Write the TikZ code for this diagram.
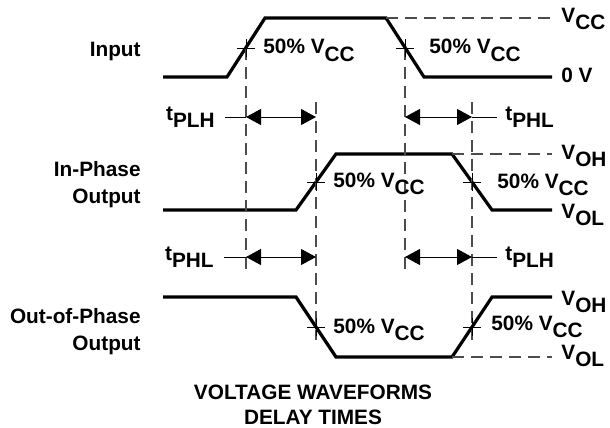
\documentclass[tikz,border=0pt]{standalone}
\usepackage{fontspec}
\setmainfont{Liberation Sans}
\usetikzlibrary{arrows.meta}
\newcommand{\lo}[1]{\raisebox{-0.35em}{#1}}

\begin{document}
\begin{tikzpicture}[x=0.5pt,y=-0.5pt,
    font=\fontsize{10.4}{13.3}\selectfont\bfseries,
    every node/.style={inner sep=0pt},
    wave/.style={line width=1.6pt},
    guide/.style={line width=0.6pt,black!70,dash pattern=on 6pt off 3.5pt},
    tick/.style={line width=0.5pt},
    dim/.style={line width=0.5pt,{Triangle[length=7.5pt,width=8pt]}-{Triangle[length=7.5pt,width=8pt]}}]
    \useasboundingbox (0,0) rectangle (610,428);
    % waveforms
    \draw[wave] (163,77) -- (227,77) -- (265,18) -- (386,18) -- (424,77) -- (552,77);
    \draw[wave] (163,210) -- (296,210) -- (336,154) -- (452,154) -- (492,210) -- (552,210);
    \draw[wave] (163,297) -- (296,297) -- (336,357) -- (452,357) -- (492,297) -- (552,297);
    \draw[guide] (386,18) -- (552,18);
    \draw[guide] (452,154) -- (552,154);
    \draw[guide] (452,357) -- (552,357);
    % 50% points
    \coordinate (ia) at (246,48);
    \coordinate (ib) at (405,48);
    \coordinate (pa) at (316,182);
    \coordinate (pb) at (472,182);
    \coordinate (oa) at (316,327);
    \coordinate (ob) at (472,327);
    \coordinate (t2) at (0,102);
    \coordinate (b1) at (0,269);
    \coordinate (b2) at (0,340);
    \coordinate (r1) at (0,117);
    \coordinate (r2) at (0,257);
    \draw[guide] (ia) -- (ia |- b1);
    \draw[guide] (ib) -- (ib |- b1);
    \draw[guide] (pa |- t2) -- (pa |- b2);
    \draw[guide] (pb |- t2) -- (pb |- b2);
    \foreach \c in {ia,ib,pa,pb,oa,ob}
        \draw[tick] (\c) ++(-9,0) -- ++(18,0) (\c) ++(0,-9) -- ++(0,18);
    % labels
    \node[anchor=north east] (in) at (141,42) {Input};
    \node[anchor=north east,align=right] (inph) at (141,161) {In-Phase\\Output};
    \node[anchor=north east,align=right] (outph) at (141,308) {Out-of-Phase\\Output};
    \node[anchor=base west] (ha) at (263,54) {50\% V\lo{CC}};
    \node[anchor=base west] (hb) at (429,54) {50\% V\lo{CC}};
    \node[anchor=base west] (hc) at (333,187) {50\% V\lo{CC}};
    \node[anchor=base west] (hd) at (497,188) {50\% V\lo{CC}};
    \node[anchor=base west] (he) at (333,333) {50\% V\lo{CC}};
    \node[anchor=base west] (hf) at (491,330) {50\% V\lo{CC}};
    \node[anchor=west] (vcc) at (561,19) {V\lo{CC}};
    \node[anchor=west] (zero) at (561,75) {0 V};
    \node[anchor=west] (voh1) at (561,156) {V\lo{OH}};
    \node[anchor=west] (vol1) at (561,215) {V\lo{OL}};
    \node[anchor=west] (voh2) at (561,302) {V\lo{OH}};
    \node[anchor=west] (vol2) at (561,356) {V\lo{OL}};
    % delay times
    \node[anchor=east] (L1) at (215,117) {t\lo{PLH}};
    \node[anchor=west] (R1) at (505,117) {t\lo{PHL}};
    \node[anchor=east] (L2) at (214,257) {t\lo{PHL}};
    \node[anchor=west] (R2) at (505,257) {t\lo{PLH}};
    \draw[dim] (ia |- r1) -- (pa |- r1);
    \draw[dim] (ib |- r1) -- (pb |- r1);
    \draw[dim] (ia |- r2) -- (pa |- r2);
    \draw[dim] (ib |- r2) -- (pb |- r2);
    \draw[tick] ([xshift=5pt]L1.east) -- (ia |- r1);
    \draw[tick] ([xshift=5pt]L2.east) -- (ia |- r2);
    \draw[tick] (pb |- r1) -- ([xshift=-4pt]R1.west);
    \draw[tick] (pb |- r2) -- ([xshift=-4pt]R2.west);
    \node[anchor=north,align=center,font=\fontsize{10.4}{12.5}\selectfont\bfseries] (title) at (313,385) {VOLTAGE WAVEFORMS\\DELAY TIMES};
\end{tikzpicture}
\end{document}
